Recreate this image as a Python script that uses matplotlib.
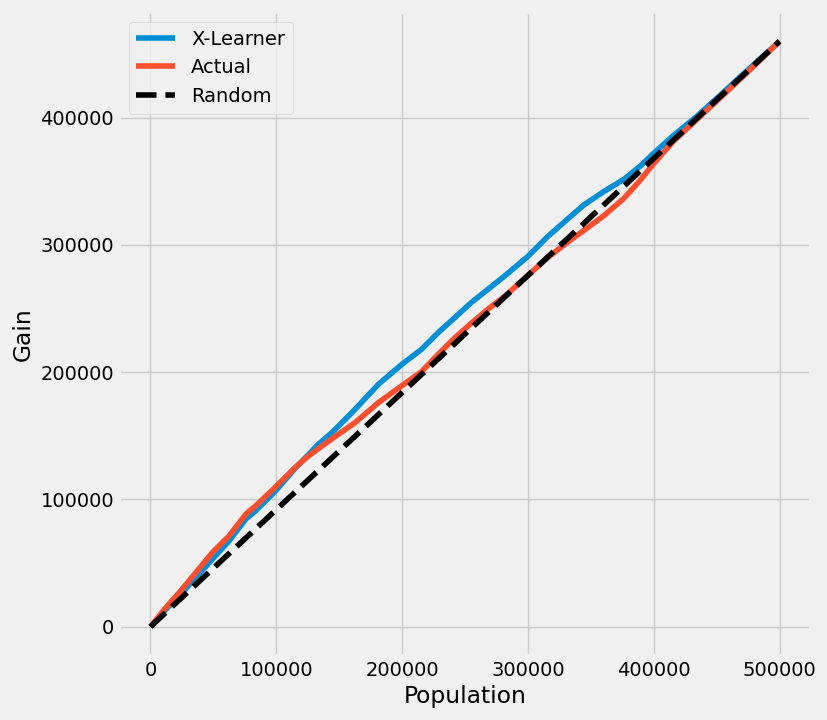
import numpy as np
import matplotlib
matplotlib.use("Agg")
import matplotlib.pyplot as plt

# cumulative gain curves
population = [0, 12600, 23200, 36400, 49500, 62700, 75900, 83800, 99600,
              115400, 126000, 133600, 144400, 154900, 162800, 181300, 200000,
              215500, 228700, 241900, 255000, 268200, 281400, 300000, 315600,
              334100, 344600, 360400, 376200, 389400, 400000, 415700, 434200,
              452700, 473700, 500000]
xlearner_gain = [0, 14000, 24600, 39000, 53300, 67700, 84700, 91200, 106900,
                 125000, 135700, 143500, 152700, 163100, 171000, 190600, 206300,
                 218000, 231100, 242900, 254700, 265100, 275500, 291000, 306500,
                 322500, 331500, 342000, 351500, 362000, 372000, 386000, 401000,
                 417500, 436500, 460000]
actual_gain = [0, 15400, 27200, 42900, 58600, 71600, 88600, 95100, 110000,
               125500, 134500, 140000, 147800, 155000, 160500, 176200, 189500,
               200500, 214000, 227000, 238500, 249500, 259500, 276000, 290000,
               304000, 311500, 323000, 336500, 351000, 364000, 381500, 398500,
               415500, 435000, 460000]
random_x = [0, 500000]
random_gain = [0, 460000]

plt.style.use("fivethirtyeight")
fig, ax = plt.subplots(figsize=(8.28, 7.2), dpi=100)
fig.subplots_adjust(left=0.1437, right=0.9795, top=0.9833, bottom=0.0889)

ax.plot(population, xlearner_gain, label="X-Learner")
ax.plot(population, actual_gain, label="Actual")
ax.plot(random_x, random_gain, "k--", label="Random")

ax.set_xlabel("Population")
ax.set_ylabel("Gain")
ax.legend(loc="upper left")

fig.savefig("out.png", dpi=100)
print("saved out.png")
